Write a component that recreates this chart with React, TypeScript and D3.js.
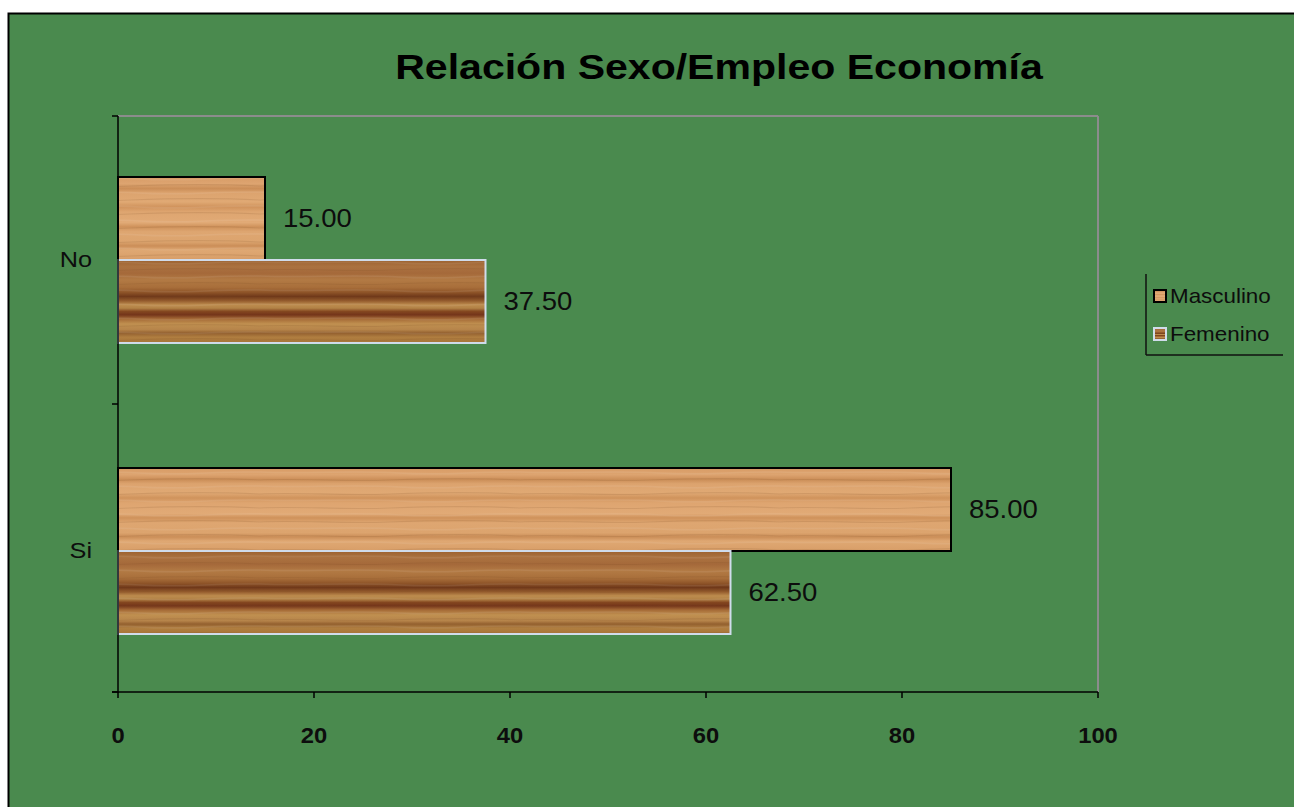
import React from "react";
import * as d3 from "d3";

const categories = ["No", "Si"];
const seriesNames = ["Masculino", "Femenino"];
const masculino = [15.0, 85.0];
const femenino = [37.5, 62.5];
const xTicks = [0, 20, 40, 60, 80, 100];
const title = "Relación Sexo/Empleo Economía";

const W = 1294;
const H = 807;
const FONT = "Arial, 'Liberation Sans', sans-serif";
const BG = "#4a8a4e";

const mascStops: [number, string][] = [
  [0, "#d89c66"], [0.08, "#dda470"], [0.14, "#cb8e58"], [0.19, "#dca36e"],
  [0.3, "#e0a974"], [0.36, "#d0935c"], [0.42, "#dea570"], [0.55, "#e1aa76"],
  [0.6, "#cf925b"], [0.66, "#dea671"], [0.78, "#dca46e"], [0.83, "#cb8e58"],
  [0.88, "#dfa873"], [1, "#d89e68"],
];
const femStops: [number, string][] = [
  [0, "#9c6230"], [0.08, "#ab7240"], [0.16, "#a5693a"], [0.24, "#b27a44"],
  [0.33, "#a86e3a"], [0.39, "#8e5428"], [0.44, "#70391a"], [0.49, "#935a2c"],
  [0.54, "#bd8c4e"], [0.58, "#b28246"], [0.62, "#84461f"], [0.66, "#74351a"],
  [0.71, "#a56a36"], [0.77, "#c09050"], [0.84, "#b6844a"], [0.88, "#93602f"],
  [0.93, "#b07e40"], [1, "#a67438"],
];

function SText(props: {
  x: number;
  y: number;
  sx: number;
  anchor?: string;
  size: number;
  weight?: string;
  children: React.ReactNode;
}) {
  const { x, y, sx, anchor, size, weight, children } = props;
  return (
    <g transform={`translate(${x},${y}) scale(${sx},1)`}>
      <text
        x={0}
        y={0}
        textAnchor={anchor || "start"}
        dominantBaseline="central"
        fontSize={size}
        fontWeight={weight || "normal"}
        fill="#0d0d0d"
      >
        {children}
      </text>
    </g>
  );
}

export default function App() {
  const x = d3.scaleLinear().domain([0, 100]).range([118, 1098]);
  const y = d3
    .scaleBand<string>()
    .domain(categories)
    .range([116, 695])
    .paddingInner(0.4296)
    .paddingOuter(0.2096);
  const sub = d3
    .scaleBand<string>()
    .domain(seriesNames)
    .range([0, y.bandwidth()]);

  const values: Record<string, number[]> = {
    Masculino: masculino,
    Femenino: femenino,
  };
  const fills: Record<string, string> = {
    Masculino: "url(#woodM)",
    Femenino: "url(#woodF)",
  };
  const strokes: Record<string, string> = {
    Masculino: "#000",
    Femenino: "#d0dceb",
  };

  const yBounds = [116, 404, 692];

  return (
    <svg
      width={W}
      height={H}
      style={{ position: "absolute", left: 0, top: 0, display: "block" }}
      fontFamily={FONT}
    >
      <defs>
        <linearGradient id="woodM" x1="0" y1="0" x2="0" y2="1">
          {mascStops.map(([o, c], i) => (
            <stop key={i} offset={o} stopColor={c} />
          ))}
        </linearGradient>
        <linearGradient id="woodF" x1="0" y1="0" x2="0" y2="1">
          {femStops.map(([o, c], i) => (
            <stop key={i} offset={o} stopColor={c} />
          ))}
        </linearGradient>
        <pattern id="grain" patternUnits="userSpaceOnUse" width="260" height="14">
          <path d="M0,4 C40,2 80,6 130,4 S220,2 260,4" fill="none" stroke="#7a4a20" strokeOpacity="0.15" strokeWidth="1.2" />
          <path d="M0,10 C50,12 90,8 140,11 S210,9 260,10" fill="none" stroke="#ffffff" strokeOpacity="0.07" strokeWidth="1.5" />
        </pattern>
      </defs>

      <rect x={8.5} y={13.5} width={W} height={H} fill={BG} stroke="#000" strokeWidth={2} />

      <g transform="translate(719,79) scale(1.14,1)">
        <text x={0} y={0} textAnchor="middle" fontSize={36} fontWeight="bold" fill="#000">
          {title}
        </text>
      </g>

      {/* plot area border top/right */}
      <line x1={118} y1={116} x2={1098} y2={116} stroke="#8c8c8c" strokeWidth={2} />
      <line x1={1098} y1={116} x2={1098} y2={692} stroke="#8c8c8c" strokeWidth={2} />

      {/* bars */}
      {categories.map((c, ci) =>
        seriesNames.map((s) => {
          const v = values[s][ci];
          const by = (y(c) as number) + (sub(s) as number);
          const bh = sub.bandwidth();
          return (
            <g key={c + s}>
              <rect x={x(0)} y={by} width={x(v) - x(0)} height={bh} fill={fills[s]} />
              <rect x={x(0)} y={by} width={x(v) - x(0)} height={bh} fill="url(#grain)" />
              <rect x={x(0)} y={by} width={x(v) - x(0)} height={bh} fill="none" stroke={strokes[s]} strokeWidth={2} />
              <SText x={x(v) + 18} y={by + bh / 2} sx={1.1} size={25}>
                {v.toFixed(2)}
              </SText>
            </g>
          );
        })
      )}

      {/* axes */}
      <line x1={118} y1={116} x2={118} y2={693} stroke="#000" strokeWidth={1.5} />
      <line x1={112} y1={692} x2={1098} y2={692} stroke="#000" strokeWidth={1.5} />
      {yBounds.map((yy, i) => (
        <line key={i} x1={112} y1={yy} x2={118} y2={yy} stroke="#000" strokeWidth={1.5} />
      ))}
      {xTicks.map((t) => (
        <g key={t}>
          <line x1={x(t)} y1={692} x2={x(t)} y2={698} stroke="#000" strokeWidth={1.5} />
          <SText x={x(t)} y={735} sx={1.08} anchor="middle" size={22} weight="bold">
            {t}
          </SText>
        </g>
      ))}
      {categories.map((c) => (
        <SText key={c} x={92} y={(y(c) as number) + y.bandwidth() / 2} sx={1.15} anchor="end" size={22}>
          {c}
        </SText>
      ))}

      {/* legend */}
      <line x1={1146} y1={274} x2={1146} y2={355} stroke="#111" strokeWidth={1.5} />
      <line x1={1146} y1={355} x2={1283} y2={355} stroke="#111" strokeWidth={1.5} />
      {seriesNames.map((s, i) => {
        const cy = 296 + i * 38;
        return (
          <g key={s}>
            <rect x={1154} y={cy - 6} width={12} height={12} fill={fills[s]} stroke={strokes[s]} strokeWidth={2} />
            <SText x={1170} y={cy} sx={1.12} size={20}>
              {s}
            </SText>
          </g>
        );
      })}
    </svg>
  );
}
